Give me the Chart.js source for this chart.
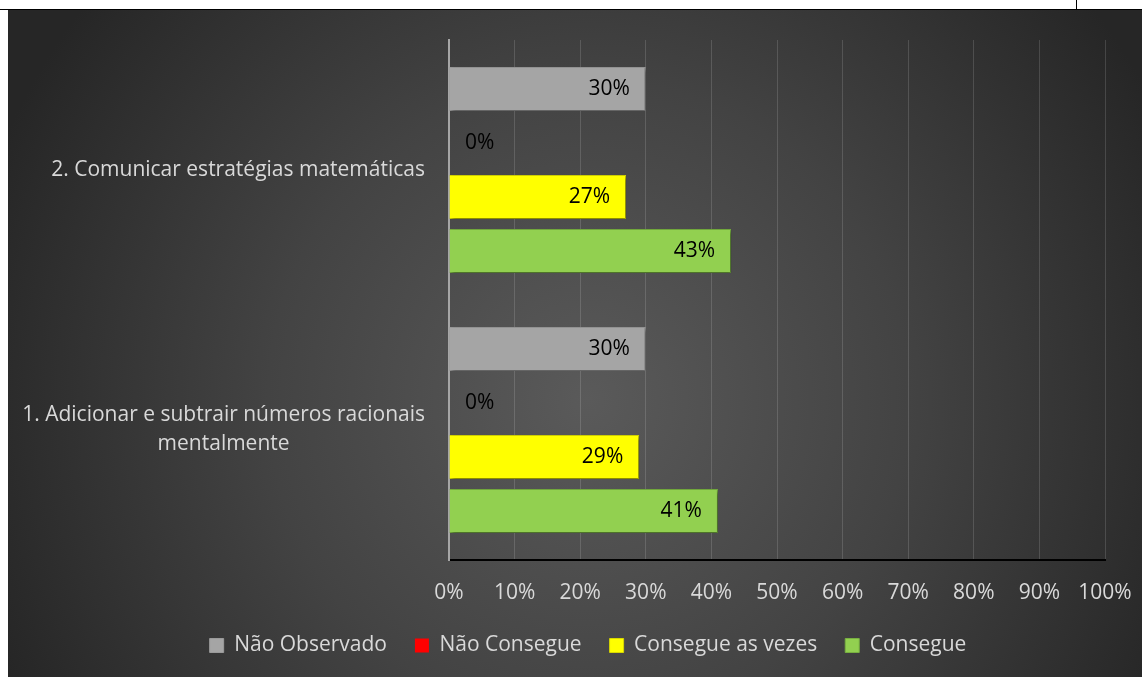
<!DOCTYPE html>
<html>
<head>
<meta charset="utf-8">
<script src="https://cdn.jsdelivr.net/npm/chart.js@4/dist/chart.umd.min.js"></script>
<style>
  html, body { margin: 0; padding: 0; background: #fff; overflow: hidden; }
  #topline { position: absolute; left: 0; top: 9px; width: 1142px; height: 1px; background: #000; }
  #tick { position: absolute; left: 1076px; top: 0; width: 1px; height: 9px; background: #000; }
  #wrap { position: absolute; left: 8px; top: 10px; width: 1134px; height: 667px; }
</style>
</head>
<body>
<div id="topline"></div>
<div id="tick"></div>
<div id="wrap"><canvas id="chart"></canvas></div>
<script>
const categories = [
    '2. Comunicar estratégias matemáticas',
    ['1. Adicionar e subtrair números racionais', 'mentalmente']
];
const naoObservado = [0.30, 0.30];
const naoConsegue = [0, 0];
const consegueAsVezes = [0.27, 0.29];
const consegue = [0.43, 0.41];
const xTicks = [0, 0.1, 0.2, 0.3, 0.4, 0.5, 0.6, 0.7, 0.8, 0.9, 1];

const FONT = '"Open Sans", sans-serif';
const FSIZE = 21;

const bgPlugin = {
    id: 'bg',
    beforeDraw(chart) {
        const { ctx, width, height } = chart;
        const g = ctx.createRadialGradient(580, 390, 0, 580, 390, 640);
        g.addColorStop(0, '#5a5a5a');
        g.addColorStop(0.5, '#434343');
        g.addColorStop(1, '#262626');
        ctx.save();
        ctx.fillStyle = g;
        ctx.fillRect(0, 0, width, height);
        ctx.restore();
    }
};

const shadowPlugin = {
    id: 'barShadow',
    beforeDatasetsDraw(chart) {
        const ctx = chart.ctx;
        ctx.save();
        ctx.shadowColor = 'rgba(0,0,0,0.45)';
        ctx.shadowBlur = 4;
        ctx.shadowOffsetX = 2;
        ctx.shadowOffsetY = 2;
    },
    afterDatasetsDraw(chart) {
        chart.ctx.restore();
    }
};

// category labels: block right-aligned against the axis, lines centred in the block
const catLabelPlugin = {
    id: 'catLabels',
    afterDraw(chart) {
        const ctx = chart.ctx;
        const yScale = chart.scales.y;
        const right = chart.chartArea.left - 24;
        const lh = 29;
        ctx.save();
        ctx.font = FSIZE + 'px ' + FONT;
        ctx.fillStyle = '#d9d9d9';
        ctx.textAlign = 'center';
        ctx.textBaseline = 'middle';
        chart.data.labels.forEach((lab, i) => {
            const lines = Array.isArray(lab) ? lab : [lab];
            const maxW = Math.max(...lines.map(l => ctx.measureText(l).width));
            const cx = right - maxW / 2;
            const cy = yScale.getPixelForValue(i);
            const y0 = cy - (lines.length - 1) * lh / 2;
            lines.forEach((l, k) => ctx.fillText(l, cx, y0 + k * lh));
        });
        ctx.restore();
    }
};

const labelPlugin = {
    id: 'valueLabels',
    afterDatasetsDraw(chart) {
        const ctx = chart.ctx;
        ctx.save();
        ctx.font = FSIZE + 'px ' + FONT;
        ctx.fillStyle = '#000';
        ctx.textBaseline = 'middle';
        ctx.textAlign = 'left';
        chart.data.datasets.forEach((ds, i) => {
            chart.getDatasetMeta(i).data.forEach((bar, j) => {
                const txt = Math.round(ds.data[j] * 100) + '%';
                const w = ctx.measureText(txt).width;
                let x = bar.x - 16 - w;
                if (x < bar.base + 16) x = bar.base + 16;
                ctx.fillText(txt, x, bar.y);
            });
        });
        ctx.restore();
    }
};

new Chart(document.getElementById('chart'), {
    type: 'bar',
    data: {
        labels: categories,
        datasets: [
            { label: 'Não Observado', data: naoObservado, backgroundColor: '#a5a5a5', borderColor: '#9a9a9a', borderWidth: 1 },
            { label: 'Não Consegue', data: naoConsegue, backgroundColor: '#ff0000', borderColor: '#e00000', borderWidth: 0 },
            { label: 'Consegue as vezes', data: consegueAsVezes, backgroundColor: '#ffff00', borderColor: '#d8d800', borderWidth: 1 },
            { label: 'Consegue', data: consegue, backgroundColor: '#92d050', borderColor: '#78b040', borderWidth: 1 }
        ]
    },
    options: {
        indexAxis: 'y',
        responsive: true,
        maintainAspectRatio: false,
        animation: false,
        datasets: { bar: { categoryPercentage: 0.83, barPercentage: 0.815 } },
        layout: { padding: { top: 30, right: 0, bottom: 11, left: 26 } },
        scales: {
            x: {
                min: 0,
                max: 1,
                afterBuildTicks(scale) { scale.ticks = xTicks.map(v => ({ value: v })); },
                afterFit(scale) {
                    scale.height = 47;
                    scale.paddingLeft = 0;
                    scale.paddingRight = 37;
                },
                grid: { color: 'rgba(255,255,255,0.14)', lineWidth: 1, drawTicks: false },
                border: { display: true, color: '#000', width: 2 },
                ticks: {
                    color: '#d9d9d9',
                    font: { family: FONT, size: FSIZE },
                    padding: 20,
                    maxRotation: 0,
                    callback: v => Math.round(v * 100) + '%'
                }
            },
            y: {
                afterFit(scale) {
                    scale.width = 415;
                    scale.paddingTop = 0;
                    scale.paddingBottom = 0;
                },
                grid: { display: false, drawTicks: false },
                border: { display: true, color: '#a6a6a6', width: 2 },
                ticks: { display: false }
            }
        },
        plugins: {
            legend: {
                position: 'bottom',
                labels: {
                    color: '#d9d9d9',
                    font: { family: FONT, size: FSIZE },
                    boxWidth: 14,
                    boxHeight: 14,
                    padding: 28,
                    useBorderRadius: false
                }
            },
            tooltip: { enabled: false }
        }
    },
    plugins: [bgPlugin, shadowPlugin, labelPlugin, catLabelPlugin]
});
</script>
</body>
</html>
